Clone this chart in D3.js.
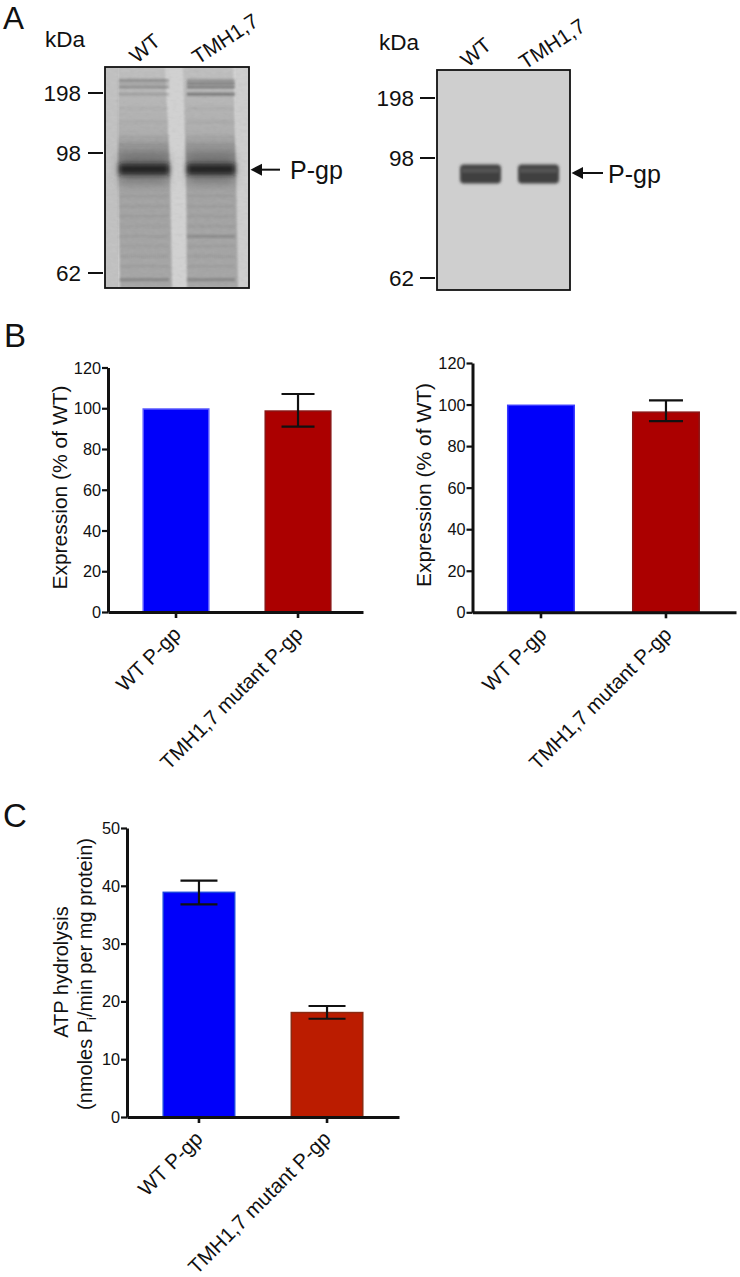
<!DOCTYPE html>
<html><head><meta charset="utf-8">
<script src="https://cdnjs.cloudflare.com/ajax/libs/d3/7.8.5/d3.min.js"></script>
<style>
html,body{margin:0;padding:0;background:#fff}
svg{display:block}
text{font-family:"Liberation Sans",Arial,sans-serif;fill:#111}
</style></head><body>
<svg id="c" width="740" height="1277"></svg>
<script>
// ---- data ----
const categories = ["WT P-gp", "TMH1,7 mutant P-gp"];
const expressionLeft = [100, 99];
const expressionLeftHigh = [100, 107];
const expressionLeftLow = [100, 91];
const expressionRight = [100, 96.7];
const expressionRightHigh = [100, 102];
const expressionRightLow = [100, 92];
const atpase = [39, 18.2];
const atpaseHigh = [40.9, 19.2];
const atpaseLow = [36.8, 17];
const expressionTicks = [0, 20, 40, 60, 80, 100, 120];
const atpaseTicks = [0, 10, 20, 30, 40, 50];
const gelLanes = ["WT", "TMH1,7"];
const markers = [198, 98, 62];
const targetBand = [93, 93.5];
// gel 1: stained bands, kDa and darkness per lane
const stainKda = [219, 214, 208, 196, 172, 150, 125, 112, 85, 82, 79, 76, 73, 70, 67, 64, 60];
const stainWT = [.3, .12, .3, .18, .04, .04, .04, .05, .06, .05, .06, .04, .06, .04, .05, .06, .25];
const stainTM = [.25, .38, .42, .45, .05, .05, .04, .05, .06, .05, .05, .06, .2, .05, .06, .06, .25];

const svg = d3.select("#c");
const defs = svg.append("defs");
[["b1",1],["b15",1.6],["b2",2.2],["b5",5.5],["b25",2.5]].forEach(([id,s])=>{
  defs.append("filter").attr("id",id).attr("x","-30%").attr("y","-200%").attr("width","160%").attr("height","500%")
    .append("feGaussianBlur").attr("stdDeviation",s);
});
const nf=defs.append("filter").attr("id","grain").attr("x",0).attr("y",0).attr("width","100%").attr("height","100%");
nf.append("feTurbulence").attr("type","fractalNoise").attr("baseFrequency","0.18 0.3").attr("numOctaves",2).attr("seed",4);
nf.append("feColorMatrix").attr("values","0.33 0.33 0.33 0 0 0.33 0.33 0.33 0 0 0.33 0.33 0.33 0 0 0 0 0 0 1");
const lg = defs.append("linearGradient").attr("id","lane").attr("x1",0).attr("x2",0).attr("y1",0).attr("y2",1);
[[0,"#c4c4c4"],[.3,"#b2b2b2"],[.4,"#8e8e8e"],[.55,"#a8a8a8"],[1,"#aaaaaa"]].forEach(([o,c])=>lg.append("stop").attr("offset",o).attr("stop-color",c));
defs.append("clipPath").attr("id","g1").append("rect").attr("x",105).attr("y",67).attr("width",144).attr("height",221);
defs.append("clipPath").attr("id","g2").append("rect").attr("x",437).attr("y",70).attr("width",133).attr("height",220);

function txt(g,s,x,y,size,anchor,rot){
  const t=g.append("text").attr("font-size",size).attr("text-anchor",anchor||"start").text(s);
  t.attr("transform",`translate(${x},${y})`+(rot?` rotate(${rot})`:""));
  return t;
}

// ---- gels ----
function gelFrame(o){
  const y=d3.scaleLinear().domain(markers).range(o.my);
  const g=svg.append("g");
  txt(g,"kDa",o.kx,o.ky,22.5);
  markers.forEach((m,i)=>{
    g.append("line").attr("x1",o.x0-17).attr("x2",o.x0-2).attr("y1",y(m)).attr("y2",y(m)).attr("stroke","#111").attr("stroke-width",2);
    txt(g,String(m),o.lx,y(m)+8,22.5,"end");
  });
  gelLanes.forEach((n,i)=>txt(g,n,o.tx[i],o.ty[i],20.8,"start",i?-33:-40));
  const ay=y(o.band);
  g.append("line").attr("x1",o.x1+12).attr("x2",o.x1+o.al).attr("y1",ay).attr("y2",ay).attr("stroke","#111").attr("stroke-width",2);
  g.append("path").attr("d",d3.line()([[o.x1+1.5,ay],[o.x1+13,ay-6],[o.x1+13,ay+6]])).attr("fill","#111");
  txt(g,"P-gp",o.x1+o.pg,ay+9.5,25);
  return {g,y};
}
// left gel (stained)
{
  const o={x0:105,x1:249,my:[93,153,273],kx:45,ky:47,lx:81,tx:[137,198],ty:[64,65],al:31,pg:41,band:targetBand[0]};
  const {g,y}=gelFrame(o);
  const a=g.append("g").attr("clip-path","url(#g1)");
  a.append("rect").attr("x",105).attr("y",67).attr("width",144).attr("height",221).attr("fill","#d6d6d6");
  a.append("rect").attr("x",105).attr("y",67).attr("width",13).attr("height",221).attr("fill","#c6c6c6");
  a.append("rect").attr("x",236).attr("y",67).attr("width",13).attr("height",221).attr("fill","#d2d2d2");
  const laneEdges=[[[118,165],[118,170],[120,172]],[[183,233],[186,236],[187,238]]];
  const laneY=[67,170,288];
  laneEdges.forEach((e,li)=>{
    const top=d3.line()(e.map((d,i)=>[d[0],laneY[i]]).concat(e.map((d,i)=>[d[1],laneY[i]]).reverse()))+"Z";
    a.append("path").attr("d",top).attr("fill","url(#lane)").attr("filter","url(#b1)");
    const x0=e[1][0],w=e[1][1]-e[1][0];
    const vals=li?stainTM:stainWT;
    stainKda.forEach((k,i)=>{
      a.append("rect").attr("x",x0+1).attr("width",w-2).attr("y",y(k)-1.5).attr("height",3)
       .attr("fill","#333").attr("opacity",vals[i]).attr("filter","url(#b1)");
    });
    a.append("rect").attr("x",x0+2).attr("width",w-4).attr("y",y(o.band)-16).attr("height",30).attr("fill","#555").attr("opacity",.45).attr("filter","url(#b5)");
    a.append("rect").attr("x",x0+1).attr("width",w-2).attr("y",y(o.band)-6).attr("height",11).attr("fill","#181818").attr("opacity",.85).attr("filter","url(#b25)");
  });
  a.append("rect").attr("x",105).attr("y",67).attr("width",144).attr("height",221).attr("filter","url(#grain)").attr("opacity",.1).style("mix-blend-mode","multiply");
  g.append("rect").attr("x",105).attr("y",67).attr("width",144).attr("height",221).attr("fill","none").attr("stroke","#111").attr("stroke-width",1.8);
}
// right gel (western blot)
{
  const o={x0:437,x1:570,my:[98,158,278],kx:379,ky:50,lx:414,tx:[468,525],ty:[68,70],al:33,pg:38,band:targetBand[1]};
  const {g,y}=gelFrame(o);
  const a=g.append("g").attr("clip-path","url(#g2)");
  a.append("rect").attr("x",437).attr("y",70).attr("width",133).attr("height",220).attr("fill","#cfcfcf");
  [[460,41],[518,41]].forEach(([x,w])=>{
    a.append("rect").attr("x",x).attr("width",w).attr("y",y(o.band)-8.5).attr("height",19).attr("fill","#404040").attr("rx",4).attr("filter","url(#b15)");
    a.append("rect").attr("x",x+2).attr("width",w-4).attr("y",y(o.band)-5).attr("height",5).attr("fill","#777").attr("opacity",.35).attr("filter","url(#b1)");
  });
  g.append("rect").attr("x",437).attr("y",70).attr("width",133).attr("height",220).attr("fill","none").attr("stroke","#111").attr("stroke-width",1.8);
}

// ---- bar panels ----
function barPanel(o){
  const g=svg.append("g");
  const y=d3.scaleLinear().domain([0,o.ymax]).range([o.y0,o.y1]);
  const x=d3.scaleBand().domain(categories).range([o.ax,o.end]).paddingInner(o.pi).paddingOuter(o.po).align(o.al);
  g.selectAll("rect.b").data(o.vals).join("rect").attr("class","b")
    .attr("x",(d,i)=>x(categories[i])+.75).attr("width",x.bandwidth()-1.5)
    .attr("y",d=>y(d)+.75).attr("height",d=>y(0)-y(d)-.75)
    .attr("fill",(d,i)=>o.fill[i]).attr("stroke",(d,i)=>o.edge[i]).attr("stroke-width",1.5);
  o.vals.forEach((d,i)=>{
    if(o.hi[i]===d) return;
    const cx=x(categories[i])+x.bandwidth()/2;
    const e=g.append("g").attr("stroke","#111").attr("stroke-width",2.2);
    e.append("line").attr("x1",cx).attr("x2",cx).attr("y1",y(o.hi[i])).attr("y2",y(o.lo[i]));
    [o.hi[i],o.lo[i]].forEach(v=>e.append("line").attr("x1",cx-o.cap).attr("x2",cx+o.cap).attr("y1",y(v)).attr("y2",y(v)));
  });
  const ya=g.append("g").attr("transform",`translate(${o.ax},0)`)
    .call(d3.axisLeft(y).tickValues(o.ticks).tickSize(6).tickSizeOuter(0));
  ya.select(".domain").attr("stroke","#111").attr("stroke-width",3);
  ya.selectAll("line").attr("stroke","#111").attr("stroke-width",2.2);
  ya.selectAll("text").attr("font-size",o.tfs).attr("x",-7).attr("dy","0.34em").style("font-family",'"Liberation Sans"');
  const xa=g.append("g").attr("transform",`translate(0,${o.y0})`)
    .call(d3.axisBottom(x).tickSize(6).tickSizeOuter(0));
  xa.select(".domain").attr("stroke","#111").attr("stroke-width",3);
  xa.selectAll("line").attr("stroke","#111").attr("stroke-width",2.6);
  xa.selectAll("text").attr("font-size",20.6).attr("text-anchor","end")
    .attr("y",0).attr("dy",0).attr("x",0)
    .attr("transform",`translate(${o.lx},${o.ly}) rotate(-45)`)
    .style("font-family",'"Liberation Sans"');
  return g;
}
const blue="#0000fa";
const gb=barPanel({ax:108,end:363,y0:612,y1:367.5,ymax:120,ticks:expressionTicks,vals:expressionLeft,hi:expressionLeftHigh,lo:expressionLeftLow,
  pi:.45,po:.27,al:.523,fill:[blue,"#ab0000"],edge:["#5a5aff","#8a1515"],cap:16.5,tfs:16.3,lx:6,ly:23.5});
txt(gb,"Expression (% of WT)",67,487.5,21,"middle",-90);
const gr=barPanel({ax:472.5,end:736,y0:612.3,y1:363,ymax:120,ticks:expressionTicks,vals:expressionRight,hi:expressionRightHigh,lo:expressionRightLow,
  pi:.456,po:.282,al:.489,fill:[blue,"#ab0000"],edge:["#3a3aff","#8a1515"],cap:17,tfs:16.3,lx:7,ly:23.5});
txt(gr,"Expression (% of WT)",431,485,21,"middle",-90);
const gc=barPanel({ax:127,end:399,y0:1117,y1:828,ymax:50,ticks:atpaseTicks,vals:atpase,hi:atpaseHigh,lo:atpaseLow,
  pi:.43,po:.277,al:.5,fill:[blue,"#bb1c00"],edge:["#1a44e0","#8a2a12"],cap:18.5,tfs:16.3,lx:5,ly:23});
txt(gc,"ATP hydrolysis",68,972,20,"middle",-90);
const l2=txt(gc,"",92,974,20,"middle",-90);
l2.append("tspan").text("(nmoles P");
l2.append("tspan").text("i").attr("font-size",13).attr("dy",4);
l2.append("tspan").text("/min per mg protein)").attr("dy",-4);

// panel letters
[["A",3,28.5,31.5],["B",4,347,33],["C",3,827,33]].forEach(([s,x,y,f])=>txt(svg,s,x,y,f));
</script>
</body></html>
